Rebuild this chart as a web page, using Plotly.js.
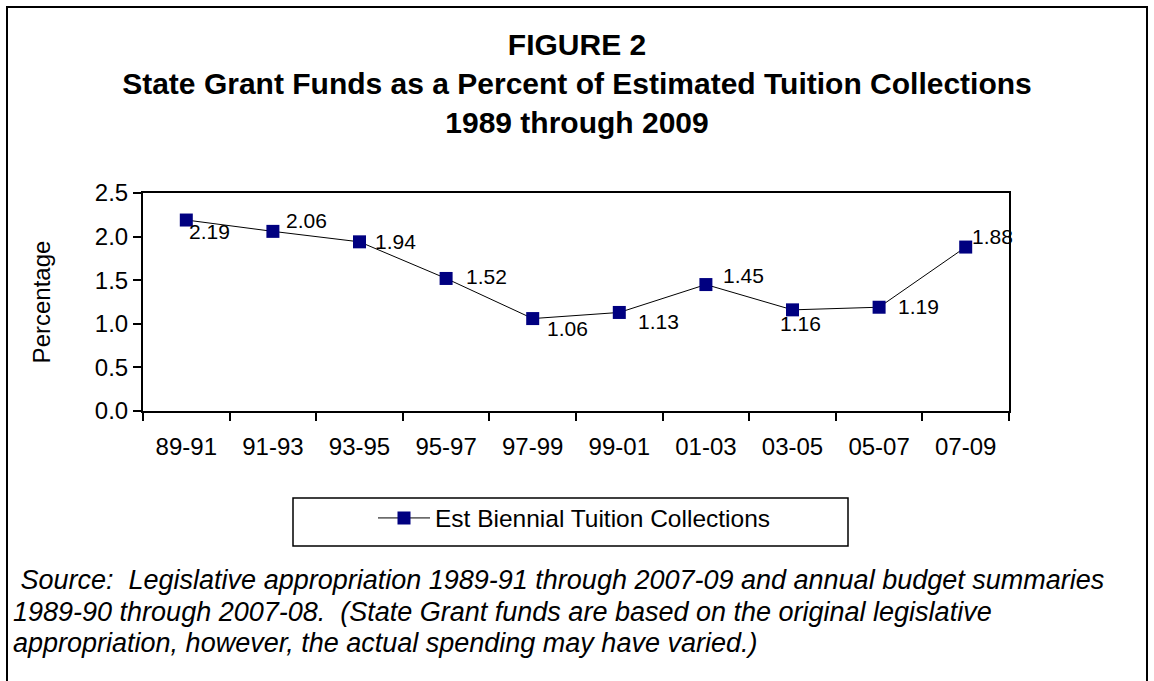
<!DOCTYPE html>
<html>
<head>
<meta charset="utf-8">
<script src="https://cdn.plot.ly/plotly-3.0.1.min.js"></script>
<style>
  html, body { margin: 0; padding: 0; background: #fff; overflow: hidden; }
  #chart { width: 1154px; height: 681px; }
</style>
</head>
<body>
<div id="chart"></div>
<script>
// ---- data ----
const periods = ["89-91","91-93","93-95","95-97","97-99","99-01","01-03","03-05","05-07","07-09"];
const grantPct = [2.19, 2.06, 1.94, 1.52, 1.06, 1.13, 1.45, 1.16, 1.19, 1.88];
const seriesName = "Est Biennial Tuition Collections";
const yTicks = [0, 0.5, 1.0, 1.5, 2.0, 2.5];
const sourceLines = [
  "\u00a0Source:\u00a0 Legislative appropriation 1989-91 through 2007-09 and annual budget summaries",
  "1989-90 through 2007-08.\u00a0 (State Grant funds are based on the original legislative",
  "appropriation, however, the actual spending may have varied.)"
];

// ---- label placement (pixels, screen: +x right, +y down) ----
const labelDx = [23, 34, 36, 40, 35, 39, 38, 8, 39, 27];
const labelDy = [11, -11, 0, -2, 10, 9, -9, 14, -1, -11];
const sourceLineY = [580, 612, 643];

const FONT = "Liberation Sans, Arial, sans-serif";

const trace = {
  type: "scatter",
  mode: "lines+markers",
  x: periods,
  y: grantPct,
  name: seriesName,
  line: { color: "#000000", width: 1 },
  marker: { symbol: "square", size: 13, color: "#000080", line: { width: 0 } }
};

const labelAnnotations = periods.map((p, i) => ({
  x: p, y: grantPct[i], xref: "x", yref: "y",
  text: grantPct[i].toFixed(2),
  showarrow: false,
  xshift: labelDx[i], yshift: -labelDy[i],
  font: { family: FONT, size: 21, color: "#000" }
}));

const M = { l: 143, r: 145, t: 193, b: 270 };
const PW = 1154 - M.l - M.r, PH = 681 - M.t - M.b;
const px = v => (v - M.l) / PW;
const py = v => (681 - M.b - v) / PH;

const sourceAnnotations = sourceLines.map((t, i) => ({
  xref: "paper", yref: "paper",
  x: px(11), xanchor: "left",
  y: py(sourceLineY[i]), yanchor: "middle",
  align: "left", showarrow: false,
  text: t,
  font: { family: FONT, size: 27, style: "italic", color: "#000" }
}));

const layout = {
  width: 1154, height: 681,
  margin: M,
  paper_bgcolor: "#fff", plot_bgcolor: "#fff",
  font: { family: FONT, color: "#000" },
  title: {
    text: "FIGURE 2<br>State Grant Funds as a Percent of Estimated Tuition Collections<br>1989 through 2009",
    font: { family: FONT, size: 30, weight: "bold", color: "#000" },
    x: 0.5, xref: "container", xanchor: "center",
    y: 1 - 55 / 681, yref: "container", yanchor: "top"
  },
  xaxis: {
    type: "category",
    range: [-0.5, periods.length - 0.5],
    showgrid: false, zeroline: false,
    showline: true, linecolor: "#000", linewidth: 2, mirror: true,
    ticks: "outside", tickson: "boundaries", ticklen: 8, tickwidth: 2, tickcolor: "#000",
    ticklabelstandoff: 13,
    tickfont: { family: FONT, size: 24, color: "#000" },
    fixedrange: true
  },
  yaxis: {
    range: [0, 2.5],
    tickvals: yTicks,
    ticktext: yTicks.map(v => v.toFixed(1)),
    showgrid: false, zeroline: false,
    showline: true, linecolor: "#000", linewidth: 2, mirror: true,
    ticks: "outside", ticklen: 8, tickwidth: 2, tickcolor: "#000",
    tickfont: { family: FONT, size: 24, color: "#000" },
    title: { text: "Percentage", font: { family: FONT, size: 24, color: "#000" }, standoff: 37 },
    automargin: true,
    fixedrange: true
  },
  showlegend: true,
  legend: {
    x: px(373), xanchor: "left",
    y: py(518), yanchor: "middle",
    orientation: "h",
    bgcolor: "rgba(0,0,0,0)",
    borderwidth: 0,
    font: { family: FONT, size: 24.5, color: "#000" },
    itemwidth: 52
  },
  shapes: [
    { type: "rect", xref: "paper", yref: "paper",
      x0: px(293), x1: px(848), y0: py(546), y1: py(498),
      line: { color: "#000", width: 1.5 }, fillcolor: "rgba(0,0,0,0)" },
    { type: "rect", xref: "paper", yref: "paper",
      x0: px(7), x1: px(1147), y0: py(760), y1: py(7),
      line: { color: "#000", width: 2 }, fillcolor: "rgba(0,0,0,0)" }
  ],
  annotations: labelAnnotations.concat(sourceAnnotations)
};

Plotly.newPlot("chart", [trace], layout, { displayModeBar: false, staticPlot: true });
</script>
</body>
</html>
